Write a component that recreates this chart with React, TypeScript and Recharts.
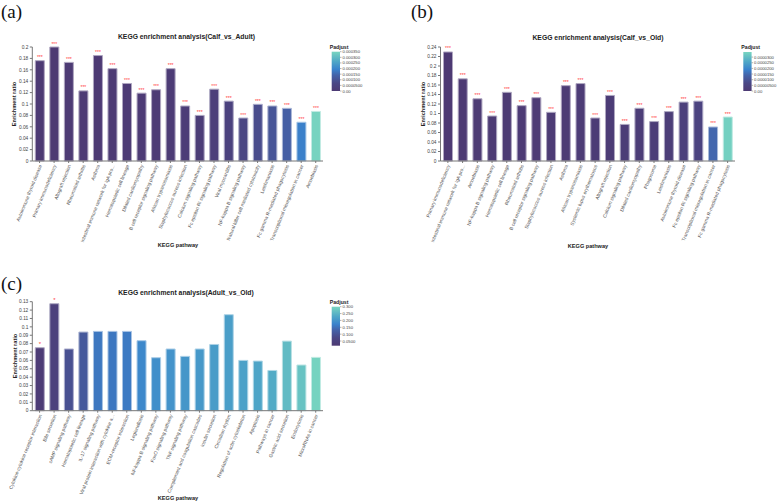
import React from "react";
import { BarChart, Bar, XAxis, YAxis, Cell, LabelList } from "recharts";

// ---- Calf_vs_Adult ----
const adultPathways = [
  "Autoimmune thyroid disease",
  "Primary immunodeficiency",
  "Allograft rejection",
  "Rheumatoid arthritis",
  "Asthma",
  "Intestinal immune network for IgA pro...",
  "Hematopoietic cell lineage",
  "Dilated cardiomyopathy",
  "B cell receptor signaling pathway",
  "African trypanosomiasis",
  "Staphylococcus aureus infection",
  "Calcium signaling pathway",
  "Fc epsilon RI signaling pathway",
  "Viral myocarditis",
  "NF-kappa B signaling pathway",
  "Natural killer cell mediated cytotoxicity",
  "Leishmaniasis",
  "Fc gamma R-mediated phagocytosis",
  "Transcriptional misregulation in cancer",
  "Amoebiasis",
];
const adultRatio = [
  0.176, 0.2, 0.173, 0.123, 0.185, 0.162, 0.136, 0.119, 0.125, 0.162, 0.0965,
  0.08, 0.126, 0.105, 0.0754, 0.0994, 0.0965, 0.0924, 0.068, 0.087,
];
const adultPadj = [
  0.000002, 0.0, 0.000003, 0.000004, 0.000002, 0.000005, 0.000006, 0.000008,
  0.000008, 0.00001, 0.000014, 0.000017, 0.000028, 0.000042, 0.000063,
  0.000084, 0.000105, 0.000133, 0.000189, 0.000347,
];
const adultSig = [
  "***", "***", "***", "***", "***", "***", "***", "***", "***", "***",
  "***", "***", "***", "***", "***", "***", "***", "***", "***", "***",
];
const adultTicks = [0, 0.02, 0.04, 0.06, 0.08, 0.1, 0.12, 0.14, 0.16, 0.18, 0.2];
const adultLegend = [0, 0.00005, 0.0001, 0.00015, 0.0002, 0.00025, 0.0003, 0.00035];
const adultLegendText = ["0.00", "0.0000500", "0.000100", "0.000150", "0.000200", "0.000250", "0.000300", "0.000350"];

// ---- Calf_vs_Old ----
const oldPathways = [
  "Primary immunodeficiency",
  "Intestinal immune network for IgA pro...",
  "Amoebiasis",
  "NF-kappa B signaling pathway",
  "Hematopoietic cell lineage",
  "Rheumatoid arthritis",
  "B cell receptor signaling pathway",
  "Staphylococcus aureus infection",
  "Asthma",
  "African trypanosomiasis",
  "Systemic lupus erythematosus",
  "Allograft rejection",
  "Calcium signaling pathway",
  "Dilated cardiomyopathy",
  "Phagosome",
  "Leishmaniasis",
  "Autoimmune thyroid disease",
  "Fc epsilon RI signaling pathway",
  "Transcriptional misregulation in cancer",
  "Fc gamma R-mediated phagocytosis",
];
const oldRatio = [
  0.2295, 0.173, 0.131, 0.0947, 0.1446, 0.1165, 0.1333, 0.1025, 0.1586, 0.163,
  0.0905, 0.138, 0.077, 0.111, 0.083, 0.104, 0.124, 0.126, 0.0716, 0.0926,
];
const oldPadj = [
  0.0, 0.0000001, 0.0000003, 0.0000004, 0.0000005, 0.0000006, 0.0000007,
  0.0000008, 0.0000009, 0.000001, 0.0000012, 0.0000013, 0.0000015, 0.0000016,
  0.0000018, 0.000002, 0.0000034, 0.0000048, 0.0000145, 0.0000335,
];
const oldSig = [
  "***", "***", "***", "***", "***", "***", "***", "***", "***", "***",
  "***", "***", "***", "***", "***", "***", "***", "***", "***", "***",
];
const oldTicks = [0, 0.02, 0.04, 0.06, 0.08, 0.1, 0.12, 0.14, 0.16, 0.18, 0.2, 0.22, 0.24];
const oldLegend = [0, 0.000005, 0.00001, 0.000015, 0.00002, 0.000025, 0.00003];
const oldLegendText = ["0.00", "0.00000500", "0.0000100", "0.0000150", "0.0000200", "0.0000250", "0.0000300"];

// ---- Adult_vs_Old ----
const aoPathways = [
  "Cytokine-cytokine receptor interaction",
  "Bile secretion",
  "cAMP signaling pathway",
  "Hematopoietic cell lineage",
  "IL-17 signaling pathway",
  "Viral protein interaction with cytokine a...",
  "ECM-receptor interaction",
  "Legionellosis",
  "NF-kappa B signaling pathway",
  "FoxO signaling pathway",
  "TNF signaling pathway",
  "Complement and coagulation cascades",
  "Insulin secretion",
  "Circadian rhythm",
  "Regulation of actin cytoskeleton",
  "Apoptosis",
  "Pathways in cancer",
  "Gastric acid secretion",
  "Endocytosis",
  "MicroRNAs in cancer",
];
const aoRatio = [
  0.0751, 0.1276, 0.0736, 0.0938, 0.0946, 0.0946, 0.0946, 0.0835, 0.0632,
  0.0736, 0.0648, 0.0736, 0.079, 0.1145, 0.06, 0.0592, 0.048, 0.083, 0.0545,
  0.0636,
];
const aoPadj = [
  0.0245, 0.0444, 0.0927, 0.1097, 0.158, 0.158, 0.161, 0.181, 0.192, 0.198,
  0.203, 0.206, 0.212, 0.215, 0.22, 0.226, 0.235, 0.26, 0.272, 0.297,
];
const aoSig = ["*", "*", "", "", "", "", "", "", "", "", "", "", "", "", "", "", "", "", "", ""];
const aoTicks = [0, 0.01, 0.02, 0.03, 0.04, 0.05, 0.06, 0.07, 0.08, 0.09, 0.1, 0.11, 0.12, 0.13];
const aoLegend = [0.05, 0.1, 0.15, 0.2, 0.25, 0.3];
const aoLegendText = ["0.0500", "0.100", "0.150", "0.200", "0.250", "0.300"];

// purple -> blue -> teal ramp used for Padjust
const RAMP: [number, number[]][] = [
  [0, [77, 58, 115]],
  [0.2, [74, 71, 133]],
  [0.4, [68, 98, 168]],
  [0.55, [58, 130, 204]],
  [0.75, [79, 167, 199]],
  [1, [120, 213, 192]],
];
const SANS = "Arial, 'Liberation Sans', sans-serif";

function rampRgb(t: number) {
  t = Math.max(0, Math.min(1, t));
  for (let i = 1; i < RAMP.length; i++) {
    const [t1, c1] = RAMP[i];
    const [t0, c0] = RAMP[i - 1];
    if (t <= t1) {
      const f = (t - t0) / (t1 - t0);
      return c0.map((c, k) => Math.round(c + (c1[k] - c) * f));
    }
  }
  return RAMP[RAMP.length - 1][1];
}
const toCss = (c: number[]) => `rgb(${c[0]},${c[1]},${c[2]})`;
const lighten = (c: number[], f: number) => c.map((v) => Math.round(v + (255 - v) * f));

const fmt = (v: number) => String(+v.toFixed(3));

function SlantTick({ x, y, payload }: any) {
  const px = x + 1;
  const py = y + 1;
  return (
    <text
      x={px}
      y={py}
      transform={`rotate(-68 ${px} ${py})`}
      textAnchor="end"
      dominantBaseline="central"
      fontSize={4.8}
      fontFamily={SANS}
      fill="#555"
    >
      {payload.value}
    </text>
  );
}

type PanelProps = {
  left: number;
  top: number;
  width: number;
  height: number;
  marginTop: number;
  marginRight: number;
  axisHeight: number;
  yWidth: number;
  names: string[];
  ratio: number[];
  padj: number[];
  sig: string[];
  ticks: number[];
  lo: number;
  hi: number;
  sigSize: number;
};

function Panel(p: PanelProps) {
  const rows = p.names.map((name, i) => ({
    name,
    ratio: p.ratio[i],
    padj: p.padj[i],
    sig: p.sig[i],
  }));
  return (
    <div style={{ position: "absolute", left: p.left, top: p.top }}>
      <BarChart
        width={p.width}
        height={p.height}
        data={rows}
        margin={{ top: p.marginTop, right: p.marginRight, left: 0, bottom: 0 }}
        barCategoryGap={0}
        barSize={9}
      >
        <XAxis
          dataKey="name"
          interval={0}
          height={p.axisHeight}
          tick={<SlantTick />}
          tickSize={2}
          tickMargin={1}
          axisLine={{ stroke: "#777" }}
          tickLine={{ stroke: "#777" }}
        />
        <YAxis
          type="number"
          width={p.yWidth}
          domain={[0, p.ticks[p.ticks.length - 1]]}
          ticks={p.ticks}
          tickFormatter={fmt}
          tickSize={2.5}
          tickMargin={1.5}
          interval={0}
          axisLine={{ stroke: "#777" }}
          tickLine={{ stroke: "#777" }}
          tick={{ fontSize: 4.8, fill: "#444", fontFamily: SANS }}
        />
        <Bar dataKey="ratio" isAnimationActive={false}>
          {rows.map((r, i) => {
            const c = rampRgb((r.padj - p.lo) / (p.hi - p.lo));
            return <Cell key={i} fill={toCss(c)} stroke={toCss(lighten(c, 0.55))} strokeWidth={1} />;
          })}
          <LabelList dataKey="sig" position="top" offset={1.5} fill="#ff3b3b" fontSize={p.sigSize} fontFamily={SANS} />
        </Bar>
      </BarChart>
    </div>
  );
}

function ColorBar({
  x, y0, y1, lo, hi, values, labels, id, titleY,
}: {
  x: number; y0: number; y1: number; lo: number; hi: number;
  values: number[]; labels: string[]; id: string; titleY: number;
}) {
  const w = 8.3;
  return (
    <g fontFamily={SANS}>
      <defs>
        <linearGradient id={id} x1="0" y1="1" x2="0" y2="0">
          {RAMP.map(([t, c], i) => (
            <stop key={i} offset={t} stopColor={toCss(c)} />
          ))}
        </linearGradient>
      </defs>
      <text x={x - 2} y={titleY} fontSize={5.2} fontWeight="bold" fill="#222" dominantBaseline="central">
        Padjust
      </text>
      <rect x={x} y={y0} width={w} height={y1 - y0} fill={`url(#${id})`} />
      {values.map((v, i) => {
        const yy = y1 - ((v - lo) / (hi - lo)) * (y1 - y0);
        return (
          <g key={i}>
            <line x1={x + w} x2={x + w + 1.5} y1={yy} y2={yy} stroke="#666" strokeWidth={0.5} />
            <text x={x + w + 2.5} y={yy} fontSize={4.2} fill="#444" dominantBaseline="central">
              {labels[i]}
            </text>
          </g>
        );
      })}
    </g>
  );
}

function Texts() {
  const serif = "'Times New Roman', 'Liberation Serif', serif";
  const title = { fontSize: 6.8, fontWeight: "bold" as const, fill: "#222", fontFamily: SANS };
  const axis = { fontSize: 5.6, fontWeight: "bold" as const, fill: "#222", fontFamily: SANS };
  return (
    <svg
      width={777}
      height={503}
      style={{ position: "absolute", left: 0, top: 0, pointerEvents: "none" }}
    >
      <text x={1} y={17.5} fontSize={19} fontFamily={serif} fill="#111">(a)</text>
      <text x={411} y={17.5} fontSize={19} fontFamily={serif} fill="#111">(b)</text>
      <text x={1} y={289.5} fontSize={19} fontFamily={serif} fill="#111">(c)</text>

      <text x={186.5} y={36} textAnchor="middle" dominantBaseline="central" {...title}>
        KEGG enrichment analysis(Calf_vs_Adult)
      </text>
      <text x={598} y={37} textAnchor="middle" dominantBaseline="central" {...title}>
        KEGG enrichment analysis(Calf_vs_Old)
      </text>
      <text x={186} y={292} textAnchor="middle" dominantBaseline="central" {...title}>
        KEGG enrichment analysis(Adult_vs_Old)
      </text>

      <text x={13.5} y={104} transform="rotate(-90 13.5 104)" textAnchor="middle" dominantBaseline="central" {...axis}>
        Enrichment ratio
      </text>
      <text x={422.7} y={104} transform="rotate(-90 422.7 104)" textAnchor="middle" dominantBaseline="central" {...axis}>
        Enrichment ratio
      </text>
      <text x={14.5} y={356} transform="rotate(-90 14.5 356)" textAnchor="middle" dominantBaseline="central" {...axis}>
        Enrichment ratio
      </text>

      <text x={178} y={245} textAnchor="middle" dominantBaseline="central" {...axis}>KEGG pathway</text>
      <text x={588} y={246} textAnchor="middle" dominantBaseline="central" {...axis}>KEGG pathway</text>
      <text x={178} y={498} textAnchor="middle" dominantBaseline="central" {...axis}>KEGG pathway</text>

      <ColorBar id="gA" x={331.7} y0={51.7} y1={91} lo={0} hi={0.00035} values={adultLegend} labels={adultLegendText} titleY={47} />
      <ColorBar id="gB" x={743.3} y0={52} y1={91} lo={0} hi={0.0000345} values={oldLegend} labels={oldLegendText} titleY={47} />
      <ColorBar id="gC" x={331.7} y0={306.7} y1={345.7} lo={0.016} hi={0.3} values={aoLegend} labels={aoLegendText} titleY={301.7} />
    </svg>
  );
}

export default function App() {
  return (
    <div style={{ position: "absolute", left: 0, top: 0, width: 777, height: 503, background: "#fff" }}>
      <Panel
        left={0} top={0} width={345} height={260} marginTop={47} marginRight={22}
        axisHeight={99} yWidth={32.3}
        names={adultPathways} ratio={adultRatio} padj={adultPadj} sig={adultSig}
        ticks={adultTicks} lo={0} hi={0.00035} sigSize={5}
      />
      <Panel
        left={400} top={0} width={345} height={260} marginTop={47} marginRight={10}
        axisHeight={99} yWidth={40.5}
        names={oldPathways} ratio={oldRatio} padj={oldPadj} sig={oldSig}
        ticks={oldTicks} lo={0} hi={0.0000345} sigSize={5}
      />
      <Panel
        left={0} top={255} width={345} height={248} marginTop={46.7} marginRight={22}
        axisHeight={92.3} yWidth={32.3}
        names={aoPathways} ratio={aoRatio} padj={aoPadj} sig={aoSig}
        ticks={aoTicks} lo={0.016} hi={0.3} sigSize={6}
      />
      <Texts />
    </div>
  );
}
